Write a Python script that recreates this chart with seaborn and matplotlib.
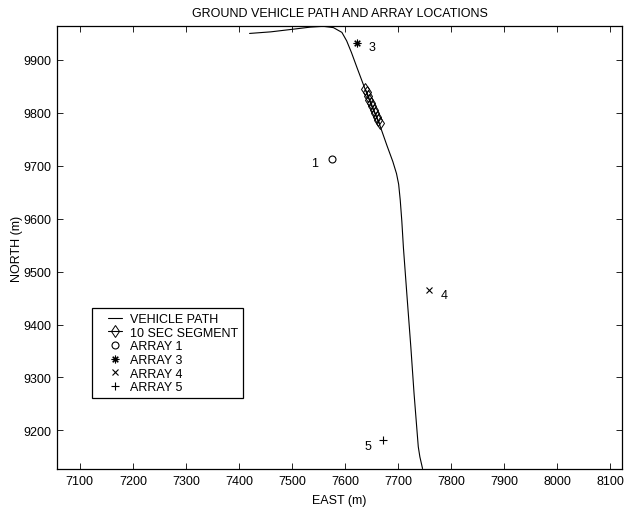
import numpy as np
import pandas as pd
import matplotlib
matplotlib.use("Agg")
import matplotlib.pyplot as plt
import seaborn as sns
from matplotlib.lines import Line2D
from matplotlib.legend_handler import HandlerLine2D

# path of the ground vehicle
path_east = [7420, 7460, 7502, 7535, 7559, 7578, 7594, 7603, 7612, 7623, 7635, 7650,
             7665, 7679, 7690, 7697, 7701, 7704, 7707, 7710, 7717, 7724, 7730, 7736,
             7738, 7741, 7746]
path_north = [9950, 9953, 9958, 9962, 9963.5, 9961, 9952, 9936, 9914, 9884, 9852, 9813,
              9778, 9738, 9708, 9685, 9665, 9635, 9595, 9545, 9450, 9357, 9270, 9194,
              9169, 9150, 9128]

# 10 second segment
seg_east = [7638, 7641, 7643.5, 7646, 7649, 7651.5, 7654, 7657, 7659.5, 7662, 7665]
seg_north = [9845, 9838.5, 9832, 9825, 9818.5, 9812, 9805.5, 9799, 9792.5, 9786, 9780]

# arrays
array_names = ["ARRAY 1", "ARRAY 3", "ARRAY 4", "ARRAY 5"]
array_ids = ["1", "3", "4", "5"]
array_east = [7576, 7622, 7759, 7672]
array_north = [9713, 9931, 9466, 9181]
label_east = [7543, 7650, 7787, 7643]
label_north = [9706, 9924, 9456, 9171]

sns.set_style("ticks")
plt.rcParams['font.family'] = ['Liberation Sans', 'DejaVu Sans']
plt.rcParams['xtick.direction'] = 'in'
plt.rcParams['ytick.direction'] = 'in'
plt.rcParams['text.color'] = 'black'
plt.rcParams['axes.labelcolor'] = 'black'
plt.rcParams['xtick.color'] = 'black'
plt.rcParams['ytick.color'] = 'black'

fig = plt.figure(figsize=(6.25, 5.1), dpi=100)
ax = fig.add_axes([0.0912, 0.0784, 0.904, 0.8686])

fs = 9
sns.lineplot(x=path_east, y=path_north, sort=False, estimator=None, color='black',
             lw=0.8, label='VEHICLE PATH', ax=ax)
sns.lineplot(x=seg_east, y=seg_north, sort=False, estimator=None, color='black',
             lw=0.8, marker='d', markersize=6, mfc='none', mec='black', mew=0.7,
             label='10 SEC SEGMENT', ax=ax)

array_markers = ['o', (8, 2, 0), 'x', '+']
array_sizes = [5, 5.5, 4, 5.5]
for name, mk, ms, e, n in zip(array_names, array_markers, array_sizes, array_east, array_north):
    sns.lineplot(x=[e], y=[n], estimator=None, linestyle='none', marker=mk, markersize=ms,
                 mfc='none', mec='black', mew=0.8, color='black', label=name, ax=ax)

for t, e, n in zip(array_ids, label_east, label_north):
    ax.text(e, n, t, fontsize=fs, ha='center', va='center')

ax.set_xlim(7057, 8122)
ax.set_ylim(9127, 9964)
ax.set_xticks(np.arange(7100, 8101, 100))
ax.set_yticks(np.arange(9200, 9901, 100))
ax.tick_params(labelsize=fs, length=4, width=0.6, top=True, right=True, pad=4)
for s in ax.spines.values():
    s.set_visible(True)
    s.set_linewidth(0.9)
    s.set_color('black')

ax.set_title('GROUND VEHICLE PATH AND ARRAY LOCATIONS', fontsize=fs, pad=7)
ax.set_xlabel('EAST (m)', fontsize=fs, labelpad=5)
ax.set_ylabel('NORTH (m)', fontsize=fs, labelpad=0)

leg = ax.legend(loc='upper left', bbox_to_anchor=(0.062, 0.363), fontsize=fs,
                frameon=True, fancybox=False, edgecolor='black', framealpha=1,
                borderpad=0.4, labelspacing=0.13, handlelength=2.0, handletextpad=0.6,
                borderaxespad=0, numpoints=1,
                handler_map={Line2D: HandlerLine2D(xpad=0.9)})
leg.get_frame().set_linewidth(0.9)

fig.savefig("out.png", dpi=100)
